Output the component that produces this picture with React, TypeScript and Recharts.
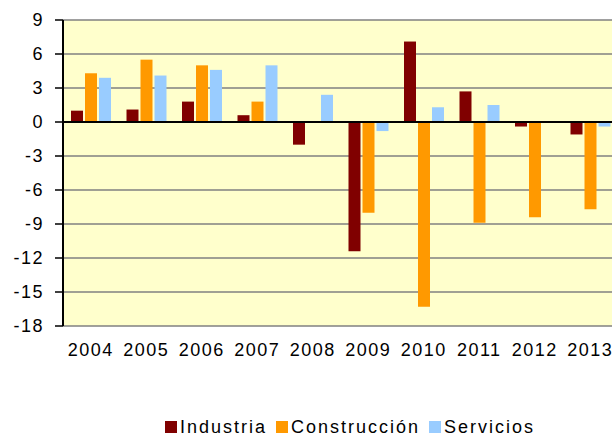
import {
  BarChart,
  Bar,
  XAxis,
  YAxis,
  CartesianGrid,
  ReferenceLine,
  Legend,
} from 'recharts'

const YEARS = ['2004', '2005', '2006', '2007', '2008', '2009', '2010', '2011', '2012', '2013']
const INDUSTRIA = [1.0, 1.1, 1.8, 0.6, -2.0, -11.4, 7.1, 2.7, -0.4, -1.1]
const CONSTRUCCION = [4.3, 5.5, 5.0, 1.8, 0, -8.0, -16.3, -8.9, -8.4, -7.7]
const SERVICIOS = [3.9, 4.1, 4.6, 5.0, 2.4, -0.8, 1.3, 1.5, 0, -0.4]
const Y_TICKS = [-18, -15, -12, -9, -6, -3, 0, 3, 6, 9]

const SERIES = [
  { key: 'industria', name: 'Industria', color: '#800000' },
  { key: 'construccion', name: 'Construcción', color: '#FF9900' },
  { key: 'servicios', name: 'Servicios', color: '#99CCFF' },
]

const data = YEARS.map((year, i) => ({
  year,
  industria: INDUSTRIA[i],
  construccion: CONSTRUCCION[i],
  servicios: SERVICIOS[i],
}))

const FONT = '"Liberation Sans", Arial, sans-serif'

function LegendContent() {
  return (
    <div
      style={{
        display: 'flex',
        alignItems: 'center',
        paddingTop: 52,
        paddingLeft: 157,
        fontFamily: FONT,
        fontSize: 18,
        letterSpacing: 2,
        lineHeight: '18px',
        color: '#000',
      }}
    >
      {SERIES.map(s => (
        <span key={s.key} style={{ display: 'flex', alignItems: 'center', marginRight: 9 }}>
          <span style={{ width: 12, height: 12, background: s.color, marginRight: 3, display: 'inline-block' }} />
          {s.name}
        </span>
      ))}
    </div>
  )
}

export default function App() {
  // absolute so the page never grows past the window (no scrollbar)
  return (
    <div style={{ position: 'absolute', top: 8, left: 8, width: 604, height: 429, overflow: 'hidden' }}>
      <BarChart
        width={640}
        height={429}
        data={data}
        margin={{ top: 12, right: 30, bottom: 0, left: 0 }}
        barSize={12}
        barGap={2}
      >
        <CartesianGrid
          vertical={false}
          fill="#FFFFCC"
          stroke="#808080"
          strokeWidth={1.5}
        />
        <XAxis
          dataKey="year"
          height={40}
          axisLine={false}
          tickLine={false}
          tickSize={0}
          tickMargin={17}
          interval={0}
          tick={{ fill: '#000', fontSize: 18, fontFamily: FONT, letterSpacing: 1.5 }}
        />
        <YAxis
          width={55}
          domain={[-18, 9]}
          ticks={Y_TICKS}
          interval={0}
          axisLine={{ stroke: '#000', strokeWidth: 2 }}
          tickLine={{ stroke: '#000', strokeWidth: 1.5 }}
          tickSize={8}
          tickMargin={11}
          tick={{ fill: '#000', fontSize: 18, fontFamily: FONT, letterSpacing: 1.5 }}
        />
        <ReferenceLine y={0} stroke="#000" strokeWidth={2} />
        {SERIES.map(s => (
          <Bar
            key={s.key}
            dataKey={s.key}
            name={s.name}
            fill={s.color}
            isAnimationActive={false}
          />
        ))}
        <Legend verticalAlign="bottom" height={71} content={<LegendContent />} />
      </BarChart>
    </div>
  )
}
